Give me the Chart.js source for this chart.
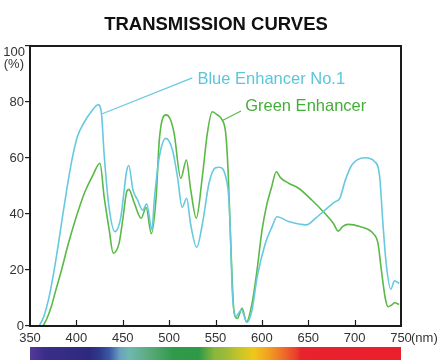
<!DOCTYPE html>
<html>
<head>
<meta charset="utf-8">
<script src="https://cdn.jsdelivr.net/npm/chart.js@4.4.1/dist/chart.umd.min.js"></script>
<style>
  html, body { margin: 0; padding: 0; background: #ffffff; }
  #wrap { width: 440px; height: 363px; }
</style>
</head>
<body>
<div id="wrap"><canvas id="c" width="440" height="363"></canvas></div>
<script>
// ---- data ----
const blueNm = [360, 365, 370, 375, 380, 385, 390, 395, 401, 408, 416, 423.5, 427, 430, 435, 441.5, 448, 451, 454, 456.5, 461, 466, 471.5, 475.8, 481.5, 484, 489.5, 496.5, 503.5, 509, 514, 519, 523, 529.7, 536, 543, 550, 554, 561, 564.5, 566.3, 568, 571.6, 578, 584, 589.4, 595, 603.7, 611, 616.3, 629, 648, 658, 668, 679, 684, 690, 697, 711, 721.6, 727, 730.5, 734, 739, 743, 748];
const blueT  = [0, 3.5, 9.5, 18, 28, 39, 49.5, 59, 67.5, 72.5, 76.5, 79, 76, 61, 43, 33.7, 39, 47, 55, 57.3, 48.6, 45, 41.4, 43.6, 34.3, 45, 60.5, 67, 63, 53.3, 42.4, 45.6, 36.7, 28.1, 36.7, 51, 56.5, 56.7, 53.3, 45, 30.7, 13, 3.3, 5.7, 1.3, 5.7, 17.6, 29.5, 35.5, 39, 37.3, 36.1, 38.5, 41.4, 44.4, 45.6, 52.1, 57.5, 60.1, 58.7, 53.3, 36.7, 22.4, 13.1, 16.1, 15.2];

const greenNm = [364, 368, 373, 378, 384, 391, 398, 408.6, 418, 425.4, 430, 435.4, 439.7, 446, 450, 454.3, 456.5, 462.6, 469.8, 475.2, 480.8, 486, 489.4, 496.5, 501, 505.4, 512.6, 518.6, 523.3, 529.3, 535.8, 541.2, 546.5, 552, 557.2, 561, 563.7, 566.3, 569.8, 573.4, 578.7, 583.4, 589.4, 594.8, 600.2, 605.6, 610, 615.6, 620, 628.8, 639.5, 653.8, 668, 677, 682.3, 687, 693, 705.6, 719.8, 725.2, 728.8, 733, 736, 740, 743.2, 748];
const greenT  = [0, 2.5, 7, 13, 20, 29, 37, 47.4, 54, 58.1, 46, 34.3, 26, 29.5, 38, 48, 48.8, 43.8, 38.5, 42.3, 33, 46, 66.4, 75.4, 74, 68.8, 52.7, 59.3, 48.6, 38.5, 53.3, 68.8, 76.5, 75.4, 73.6, 68.8, 54.5, 30.7, 5.7, 2.7, 6.3, 1.5, 8.1, 20, 34.3, 43.8, 49, 55.1, 53, 51, 49.2, 45, 40.2, 36.7, 33.9, 35.5, 36.3, 35.5, 33.1, 29.5, 20, 10, 6.9, 7.5, 8.3, 7.7];

const xTickValues = [350, 400, 450, 500, 550, 600, 650, 700, 750];
const yTickValues = [0, 20, 40, 60, 80, 100];

const seriesNames = ['Blue Enhancer No.1', 'Green Enhancer'];

// visible-spectrum strip under the axis (wavelength -> colour)
const spectrumNm = [350, 366, 414, 425, 436, 447, 457, 479, 505, 532, 549, 560, 575, 591, 607, 624, 638, 642, 750];
const spectrumColor = ['#55399a', '#3b2d8a', '#2c2a7e', '#2f3a8c', '#3c5aa6', '#6aa0c0', '#6fb8b0', '#5aaa7a', '#2f9a4a', '#2e9a48', '#8ab83a', '#9aba3a', '#c4c42a', '#f0c81a', '#f2a020', '#ee6a2a', '#ea3b2c', '#e8222e', '#ea1f2c'];

// ---- build ----
const toPoints = (xs, ys) => xs.map((v, i) => ({ x: v, y: ys[i] }));

const BLUE = '#66c9df';
const GREEN = '#5ab947';
const BLUE_TEXT = '#5bc6dc';
const GREEN_TEXT = '#43ae3a';

Chart.defaults.font.family = "'Liberation Sans', Arial, sans-serif";

const decor = {
  id: 'decor',
  afterDraw(chart) {
    const { ctx, chartArea: a, scales: { x, y } } = chart;
    ctx.save();

    // colour strip
    const x0 = x.getPixelForValue(xTickValues[0]);
    const x1 = x.getPixelForValue(xTickValues[xTickValues.length - 1]);
    const g = ctx.createLinearGradient(x0, 0, x1, 0);
    spectrumNm.forEach((nm, i) => g.addColorStop((nm - 350) / 400, spectrumColor[i]));
    ctx.fillStyle = g;
    ctx.fillRect(x0, a.bottom + 21, x1 - x0, 13);

    // frame
    ctx.strokeStyle = '#1b1b1b';
    ctx.lineWidth = 2;
    ctx.strokeRect(a.left, a.top, a.right - a.left, a.bottom - a.top);

    // inward x ticks
    ctx.lineWidth = 1.2;
    x.ticks.forEach(t => {
      if (t.value > x.min && t.value < x.max) {
        const px = Math.round(x.getPixelForValue(t.value)) + 0.5;
        ctx.beginPath();
        ctx.moveTo(px, a.bottom);
        ctx.lineTo(px, a.bottom - 6);
        ctx.stroke();
      }
    });

    // "100 (%)" label and "(nm)"
    ctx.fillStyle = '#333';
    ctx.font = "13px 'Liberation Sans', Arial, sans-serif";
    ctx.textAlign = 'right';
    ctx.textBaseline = 'middle';
    const yTop = y.getPixelForValue(100);
    ctx.fillText('100', a.left - 5, yTop + 6);
    ctx.fillText('(%)', a.left - 6, yTop + 18);
    ctx.textAlign = 'left';
    ctx.fillText('(nm)', x1 + 10, a.bottom + 12.5);

    // callouts
    const callouts = [
      { text: seriesNames[0], color: BLUE_TEXT, line: BLUE, from: [525, 88.6], to: [428, 75.8], at: [530.5, 88.2] },
      { text: seriesNames[1], color: GREEN_TEXT, line: GREEN, from: [577.5, 76.8], to: [557, 73.3], at: [582, 78.3] }
    ];
    ctx.font = "16.5px 'Liberation Sans', Arial, sans-serif";
    ctx.lineWidth = 1.2;
    callouts.forEach(c => {
      ctx.strokeStyle = c.line;
      ctx.beginPath();
      ctx.moveTo(x.getPixelForValue(c.from[0]), y.getPixelForValue(c.from[1]));
      ctx.lineTo(x.getPixelForValue(c.to[0]), y.getPixelForValue(c.to[1]));
      ctx.stroke();
      ctx.fillStyle = c.color;
      ctx.textAlign = 'left';
      ctx.textBaseline = 'middle';
      ctx.fillText(c.text, x.getPixelForValue(c.at[0]), y.getPixelForValue(c.at[1]));
    });

    ctx.restore();
  }
};

new Chart(document.getElementById('c'), {
  type: 'line',
  data: {
    datasets: [
      { label: seriesNames[0], data: toPoints(blueNm, blueT), borderColor: BLUE, borderWidth: 1.6, pointRadius: 0, cubicInterpolationMode: 'monotone', fill: false },
      { label: seriesNames[1], data: toPoints(greenNm, greenT), borderColor: GREEN, borderWidth: 1.6, pointRadius: 0, cubicInterpolationMode: 'monotone', fill: false }
    ]
  },
  options: {
    responsive: false,
    animation: false,
    devicePixelRatio: 1,
    layout: { padding: { left: 0, right: 8, top: 0, bottom: 0 } },
    plugins: {
      legend: { display: false },
      tooltip: { enabled: false },
      title: {
        display: true,
        text: 'TRANSMISSION CURVES',
        color: '#111',
        font: { size: 18.5, weight: 'bold', family: "'Liberation Sans', Arial, sans-serif" },
        padding: { top: 13.8, bottom: 10 }
      }
    },
    scales: {
      x: {
        type: 'linear',
        min: 350, max: 750,
        afterBuildTicks: s => { s.ticks = xTickValues.map(v => ({ value: v })); },
        afterFit: s => { s.height = 37; },
        grid: { display: false, drawTicks: false },
        border: { display: false },
        ticks: { color: '#333', font: { size: 13 }, padding: 5, maxRotation: 0, autoSkip: false }
      },
      y: {
        min: 0, max: 100,
        afterBuildTicks: s => { s.ticks = yTickValues.map(v => ({ value: v })); },
        afterFit: s => { s.width = 30; },
        grid: { drawOnChartArea: false, drawTicks: true, tickLength: 5, color: '#222', lineWidth: 1.2 },
        border: { display: false },
        ticks: { color: '#333', font: { size: 13 }, padding: 1, callback: v => (v === 100 ? '' : v) }
      },
      yRight: {
        type: 'linear',
        position: 'right',
        min: 0, max: 100,
        afterFit: s => { s.width = 31; },
        grid: { display: false, drawTicks: false },
        border: { display: false },
        ticks: { display: false }
      }
    }
  },
  plugins: [decor]
});
</script>
</body>
</html>
